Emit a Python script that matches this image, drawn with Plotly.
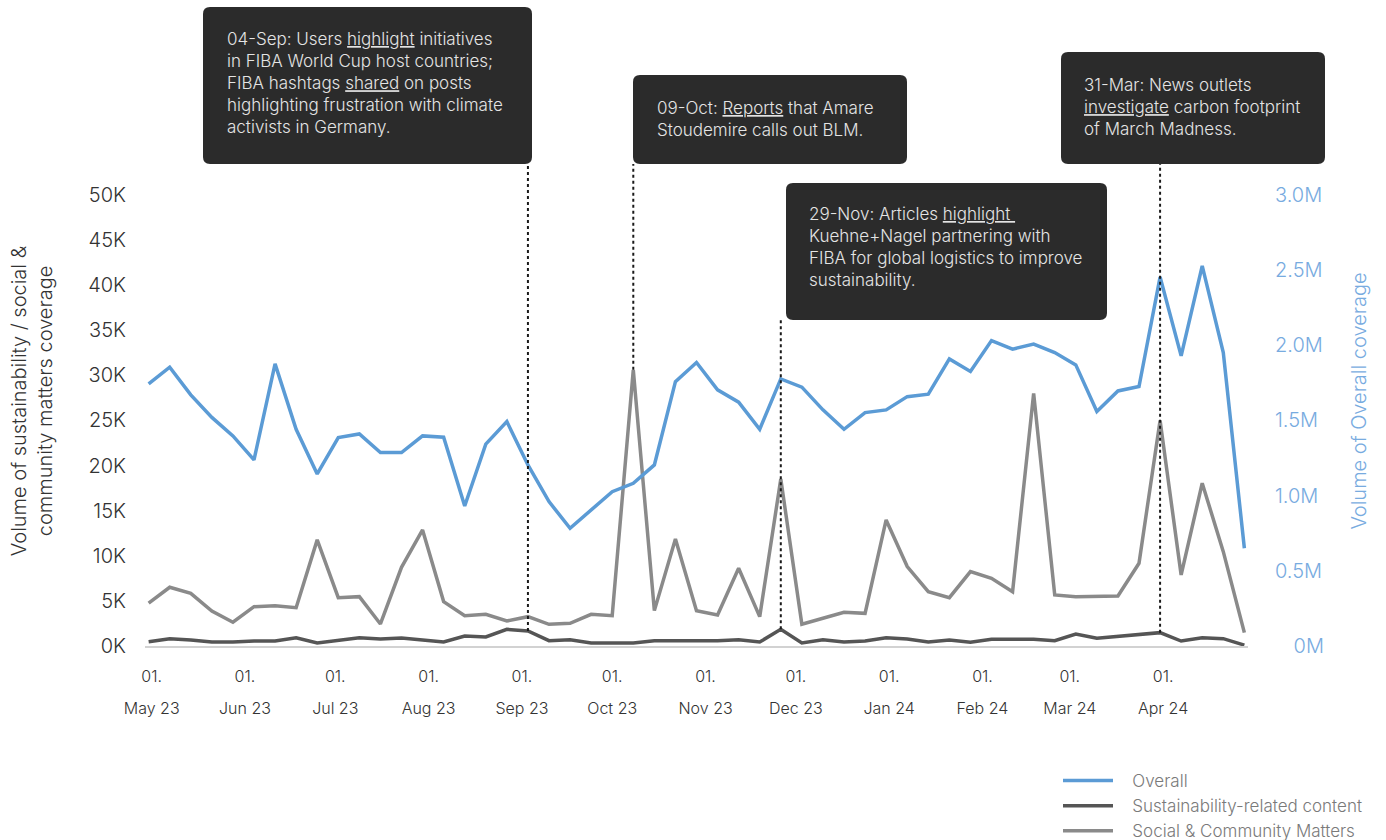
import plotly.graph_objects as go

# ---------------- data ----------------
weeks = ["2023-04-30","2023-05-07","2023-05-14","2023-05-21","2023-05-28","2023-06-04","2023-06-11",
         "2023-06-18","2023-06-25","2023-07-02","2023-07-09","2023-07-16","2023-07-23","2023-07-30",
         "2023-08-06","2023-08-13","2023-08-20","2023-08-27","2023-09-03","2023-09-10","2023-09-17",
         "2023-09-24","2023-10-01","2023-10-08","2023-10-15","2023-10-22","2023-10-29","2023-11-05",
         "2023-11-12","2023-11-19","2023-11-26","2023-12-03","2023-12-10","2023-12-17","2023-12-24",
         "2023-12-31","2024-01-07","2024-01-14","2024-01-21","2024-01-28","2024-02-04","2024-02-11",
         "2024-02-18","2024-02-25","2024-03-03","2024-03-10","2024-03-17","2024-03-24","2024-03-31",
         "2024-04-07","2024-04-14","2024-04-21","2024-04-28"]

overall = [1743000, 1854000, 1670000, 1520000, 1397000, 1237000, 1876000, 1441000, 1144000, 1386000,
           1410000, 1286000, 1286000, 1397000, 1388000, 931000, 1342000, 1492000, 1204000, 960000,
           783000, 905000, 1026000, 1082000, 1204000, 1758000, 1885000, 1703000, 1621000, 1441000,
           1776000, 1721000, 1570000, 1441000, 1552000, 1570000, 1658000, 1674000, 1909000, 1825000,
           2031000, 1974000, 2007000, 1951000, 1869000, 1559000, 1696000, 1725000, 2453000, 1929000,
           2528000, 1951000, 650000]

sustainability = [480, 810, 670, 440, 440, 550, 550, 920, 330, 630,
                  920, 780, 890, 670, 440, 1110, 1000, 1850, 1660, 590,
                  700, 330, 330, 330, 590, 590, 670, 590, 700, 440,
                  1850, 330, 700, 440, 550, 920, 780, 440, 670, 410,
                  740, 740, 740, 590, 1330, 850, 1030, 1220, 1480, 550,
                  920, 810, 100]

social = [4740, 6510, 5840, 3880, 2630, 4360, 4470, 4250, 11760, 5360,
          5470, 2440, 8720, 12860, 4920, 3360, 3510, 2770, 3250, 2400,
          2510, 3510, 3360, 30600, 3920, 11870, 3920, 3440, 8610, 3250,
          18500, 2410, 3070, 3730, 3620, 13970, 8800, 6020, 5360, 8240,
          7500, 6020, 28000, 5660, 5470, 5550, 5550, 9170, 24990, 7870,
          18040, 10460, 1480]

month_ticks = ["2023-05-01","2023-06-01","2023-07-01","2023-08-01","2023-09-01","2023-10-01",
               "2023-11-01","2023-12-01","2024-01-01","2024-02-01","2024-03-01","2024-04-01"]
day_labels = ["01."] * 12
month_labels = ["May 23", "Jun 23", "Jul 23", "Aug 23", "Sep 23", "Oct 23",
                "Nov 23", "Dec 23", "Jan 24", "Feb 24", "Mar 24", "Apr 24"]

left_ticks = [0, 5000, 10000, 15000, 20000, 25000, 30000, 35000, 40000, 45000, 50000]
left_labels = ["0K", "5K", "10K", "15K", "20K", "25K", "30K", "35K", "40K", "45K", "50K"]
right_ticks = [0, 500000, 1000000, 1500000, 2000000, 2500000, 3000000]
right_labels = ["\u2007\u20080M", "0.5M", "1.0M", "1.5M", "2.0M", "2.5M", "3.0M"]

events = [
    dict(date="2023-09-03", series="sust", idx=18,
         text="04-Sep: Users <u>highlight</u> initiatives<br>in FIBA World Cup host countries;<br>"
              "FIBA hashtags <u>shared</u> on posts<br>highlighting frustration with climate<br>"
              "activists in Germany.",
         box=(203, 7, 532, 164), txt=(225, 27)),
    dict(date="2023-10-08", series="social", idx=23,
         text="09-Oct: <u>Reports</u> that Amare<br>Stoudemire calls out BLM.",
         box=(633, 75, 907, 164), txt=(655, 96)),
    dict(date="2023-11-26", series="sust", idx=30,
         text="29-Nov: Articles <u>highlight </u><br>Kuehne+Nagel partnering with<br>"
              "FIBA for global logistics to improve<br>sustainability.",
         box=(786, 183, 1107, 320), txt=(807, 202)),
    dict(date="2024-03-31", series="sust", idx=48,
         text="31-Mar: News outlets<br><u>investigate</u> carbon footprint<br>of March Madness.",
         box=(1061, 52, 1325, 164), txt=(1082, 73)),
]

# ---------------- layout geometry (page pixels; body margin removed) ----------------
W, H = 1386, 840
PLOT_LEFT, PLOT_RIGHT, PLOT_TOP, PLOT_BOTTOM = 145, 1248, 156, 646
L, R, T, B = PLOT_LEFT, W - PLOT_RIGHT, PLOT_TOP, H - PLOT_BOTTOM
PW, PH = W - L - R, H - T - B
Y_TOP = 54300                # left axis range top (ticks stop at 50K)
Y2_TOP = 3258000             # right axis range top (ticks stop at 3.0M)
X_RANGE = ["2023-04-28 19:00", "2024-04-29 05:00"]
FONT = "Inter"

def px2paper_x(px):
    return (px - PLOT_LEFT) / PW

def px2paper_y(py):
    return (PLOT_BOTTOM - py) / PH

def rounded_rect(x0, y0, x1, y1, r=7):
    rx, ry = r / PW, r / PH
    X0, X1 = px2paper_x(x0), px2paper_x(x1)
    Yt, Yb = px2paper_y(y0), px2paper_y(y1)
    return (f"M{X0+rx},{Yt} L{X1-rx},{Yt} Q{X1},{Yt} {X1},{Yt-ry} "
            f"L{X1},{Yb+ry} Q{X1},{Yb} {X1-rx},{Yb} "
            f"L{X0+rx},{Yb} Q{X0},{Yb} {X0},{Yb+ry} "
            f"L{X0},{Yt-ry} Q{X0},{Yt} {X0+rx},{Yt} Z")

BLUE = "#5b9bd5"
AXIS_BLUE = "#78abdf"
DARK = "#555555"
GREY = "#8a8a8a"
NB = "\u00a0\u00a0\u00a0"   # small gap between legend line and label

fig = go.Figure()
fig.add_trace(go.Scatter(x=weeks, y=social, name=NB + "Social & Community Matters", mode="lines",
                         line=dict(color=GREY, width=3.5), xaxis="x", yaxis="y", legendrank=3))
fig.add_trace(go.Scatter(x=weeks, y=sustainability, name=NB + "Sustainability-related content",
                         mode="lines", line=dict(color=DARK, width=3.5), xaxis="x", yaxis="y",
                         legendrank=2))
fig.add_trace(go.Scatter(x=weeks, y=overall, name=NB + "Overall", mode="lines",
                         line=dict(color=BLUE, width=3.5), xaxis="x2", yaxis="y2", legendrank=1))

shapes = []
annotations = []
for ev in events:
    val = sustainability[ev["idx"]] if ev["series"] == "sust" else social[ev["idx"]]
    box_bottom = px2paper_y(ev["box"][3])
    shapes.append(dict(type="line", xref="x", yref="y", x0=ev["date"], x1=ev["date"],
                       y0=val, y1=box_bottom * Y_TOP,
                       line=dict(color="#1a1a1a", width=2, dash="dot"), layer="above"))
    shapes.append(dict(type="path", xref="paper", yref="paper", path=rounded_rect(*ev["box"]),
                       fillcolor="#2b2b2b", line=dict(width=0), layer="above"))
    annotations.append(dict(xref="paper", yref="paper", x=px2paper_x(ev["txt"][0]),
                            y=px2paper_y(ev["txt"][1]), xanchor="left", yanchor="top",
                            align="left", showarrow=False, text=ev["text"],
                            font=dict(family=FONT, size=17, color="#e4e4e4", weight=300)))

tick_font = dict(family=FONT, size=16, color="#333333", weight=300)

fig.update_layout(
    width=W, height=H,
    margin=dict(l=L, r=R, t=T, b=B, autoexpand=False),
    paper_bgcolor="white", plot_bgcolor="white",
    font=dict(family=FONT, size=17, color="#333333", weight=300),
    showlegend=True,
    legend=dict(x=px2paper_x(1058), y=px2paper_y(763), xanchor="left", yanchor="top",
                font=dict(family=FONT, size=17, color="#7a7a7a", weight=300),
                bgcolor="rgba(0,0,0,0)", itemwidth=50, traceorder="normal"),
    xaxis=dict(type="date", range=X_RANGE, tickvals=month_ticks, ticktext=day_labels,
               showgrid=False, showline=True, linecolor="#d2d2d2", linewidth=2, zeroline=False,
               ticks="", ticklabelstandoff=15, tickfont=tick_font),
    xaxis2=dict(type="date", range=X_RANGE, overlaying="x", anchor="y2", side="bottom",
                tickvals=month_ticks, ticktext=month_labels, showgrid=False, showline=False,
                zeroline=False, ticks="", ticklabelstandoff=51, tickfont=tick_font),
    yaxis=dict(range=[0, Y_TOP], tickvals=left_ticks, ticktext=left_labels, showgrid=False,
               zeroline=False, showline=False, ticks="", ticklabelstandoff=18,
               tickfont=dict(family=FONT, size=20, color="#333333", weight=300),
               title=dict(text="Volume of sustainability / social &<br>community matters coverage",
                          font=dict(family=FONT, size=20, color="#333333", weight=300), standoff=30)),
    yaxis2=dict(range=[0, Y2_TOP], overlaying="y", anchor="x2", side="right", tickvals=right_ticks,
                ticktext=right_labels, showgrid=False, zeroline=False, showline=False, ticks="",
                ticklabelstandoff=26,
                tickfont=dict(family=FONT, size=20, color=AXIS_BLUE, weight=300),
                title=dict(text="Volume of Overall coverage",
                           font=dict(family=FONT, size=20, color=AXIS_BLUE, weight=300), standoff=29)),
    shapes=shapes,
    annotations=annotations,
)

fig.write_html("out.html", config={"displayModeBar": False},
               post_script="document.body.style.margin='0px';")
